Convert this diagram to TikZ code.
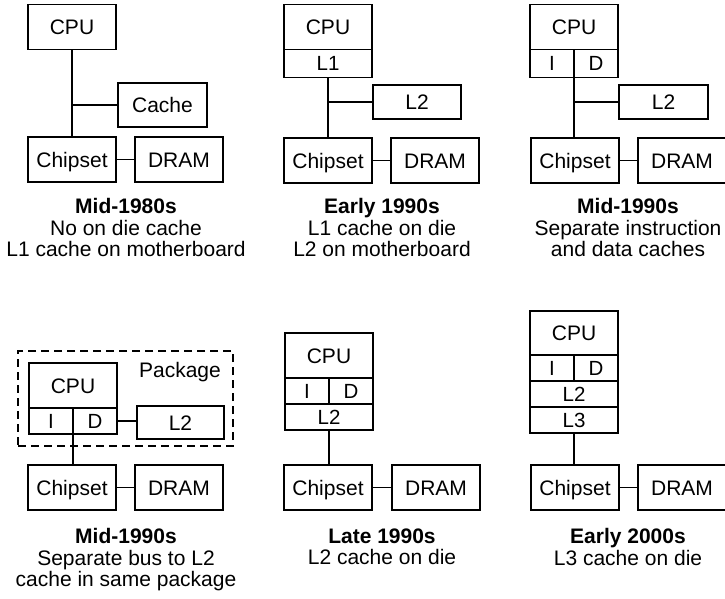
\documentclass[tikz,border=0pt]{standalone}
\usepackage{fontspec}
\setmainfont{Liberation Sans}
\usetikzlibrary{positioning, calc}

\begin{document}
\begin{tikzpicture}[x=1pt, y=-1pt, line width=1.1pt,
    box/.style={rectangle, draw, outer sep=0pt, inner sep=0pt, minimum width=88pt, minimum height=45pt,
        font=\fontsize{21}{22}\selectfont, text height=15pt, text depth=0pt},
    cell/.style={box, minimum height=26pt, font=\fontsize{20.5}{21}\selectfont, text height=14.6pt},
    half/.style={minimum width=44pt},
    pkg/.style={rectangle, draw, dash pattern=on 8pt off 5pt, minimum width=215pt, minimum height=95pt},
    tag/.style={inner sep=0pt, font=\fontsize{21}{22}\selectfont, text height=15pt, text depth=0pt},
    caption/.style={anchor=north, inner sep=0pt, align=center, font=\fontsize{21}{21.5}\selectfont}]

    \useasboundingbox (0,0) rectangle (725,599);

    % Mid-1980s
    \node (CPUa) [box] at (72,27) {CPU};
    \node (Cachea) [box, minimum width=89pt, minimum height=44pt] at (162.5,105) {Cache};
    \node (Chipa) [box] at (72,159.5) {Chipset};
    \node (DRAMa) [box, right=19pt of Chipa] {DRAM};
    \node (Capa) [caption] at (126,198) {\textbf{Mid-1980s}\\No on die cache\\L1 cache on motherboard};
    \draw (CPUa) -- (Chipa);
    \draw (Cachea.west) -- (Cachea.west -| CPUa.south);
    \draw (Chipa) -- (DRAMa);

    % Early 1990s
    \node (CPUb) [box] at (328,27) {CPU};
    \node (L1b) [cell, minimum height=28pt, below=0pt of CPUb] {L1};
    \node (L2b) [box, minimum height=34pt] at (417,102) {L2};
    \node (Chipb) [box] at (328,160.5) {Chipset};
    \node (DRAMb) [box, right=19pt of Chipb] {DRAM};
    \node (Capb) [caption] at (382,198) {\textbf{Early 1990s}\\L1 cache on die\\L2 on motherboard};
    \draw (L1b) -- (Chipb);
    \draw (L2b.west) -- (L2b.west -| L1b.south);
    \draw (Chipb) -- (DRAMb);

    % Mid-1990s, split I and D
    \node (CPUc) [box] at (574,27) {CPU};
    \node (Ic) [cell, half, minimum height=28pt, anchor=north west] at (CPUc.south west) {I};
    \node (Dc) [cell, half, minimum height=28pt, anchor=north east] at (CPUc.south east) {D};
    \node (L2c) [box, minimum width=89pt, minimum height=34pt] at (663.5,102) {L2};
    \node (Chipc) [box] at (575,160.5) {Chipset};
    \node (DRAMc) [box, right=19pt of Chipc] {DRAM};
    \node (Capc) [caption] at (628,198) {\textbf{Mid-1990s}\\Separate instruction\\and data caches};
    \draw (Ic.south east) -- (Ic.south east |- Chipc.north);
    \draw (L2c.west) -- (L2c.west -| Ic.south east);
    \draw (Chipc) -- (DRAMc);

    % Mid-1990s, L2 in the package
    \node (Pkgd) [pkg] at (125.5,398.5) {};
    \node (PkgLabel) [tag] at (180,370) {Package};
    \node (CPUd) [box] at (73,385.5) {CPU};
    \node (Id) [cell, half, anchor=north west] at (CPUd.south west) {I};
    \node (Dd) [cell, half, anchor=north east] at (CPUd.south east) {D};
    \node (L2d) [box, minimum width=87pt, minimum height=33pt] at (180.5,422.5) {L2};
    \node (Chipd) [box] at (72,487.5) {Chipset};
    \node (DRAMd) [box, right=19pt of Chipd] {DRAM};
    \node (Capd) [caption] at (126,528) {\textbf{Mid-1990s}\\Separate bus to L2\\cache in same package};
    \draw (Dd.east) -- (Dd.east -| L2d.west);
    \draw (Id.south east) -- (Id.south east |- Chipd.north);
    \draw (Chipd) -- (DRAMd);

    % Late 1990s
    \node (CPUe) [box] at (329,355.5) {CPU};
    \node (Ie) [cell, half, anchor=north west] at (CPUe.south west) {I};
    \node (De) [cell, half, anchor=north east] at (CPUe.south east) {D};
    \node (L2e) [cell, anchor=north] at (Ie.south east) {L2};
    \node (Chipe) [box] at (328,487.5) {Chipset};
    \node (DRAMe) [box, right=20pt of Chipe] {DRAM};
    \node (Cape) [caption] at (382,528) {\textbf{Late 1990s}\\L2 cache on die};
    \draw (L2e.south) -- (L2e.south |- Chipe.north);
    \draw (Chipe) -- (DRAMe);

    % Early 2000s
    \node (CPUf) [box, minimum height=44pt] at (574,333) {CPU};
    \node (If) [cell, half, anchor=north west] at (CPUf.south west) {I};
    \node (Df) [cell, half, anchor=north east] at (CPUf.south east) {D};
    \node (L2f) [cell, anchor=north] at (If.south east) {L2};
    \node (L3f) [cell, below=0pt of L2f] {L3};
    \node (Chipf) [box] at (575,487.5) {Chipset};
    \node (DRAMf) [box, right=19pt of Chipf] {DRAM};
    \node (Capf) [caption] at (628,528) {\textbf{Early 2000s}\\L3 cache on die};
    \draw (L3f.south) -- (L3f.south |- Chipf.north);
    \draw (Chipf) -- (DRAMf);
\end{tikzpicture}
\end{document}
